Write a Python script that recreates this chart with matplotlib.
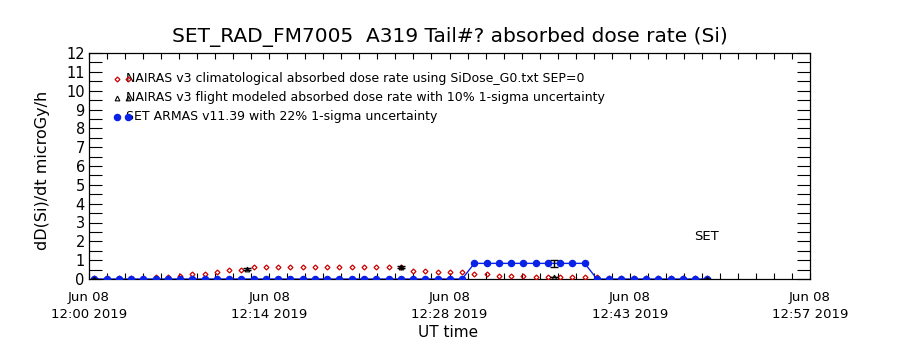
import matplotlib
matplotlib.use('Agg')
import matplotlib.pyplot as plt
import matplotlib.dates as mdates
from matplotlib.ticker import FixedLocator
import pandas as pd

# ─── Data ──────────────────────────────────────────────────────
# sample times of the dose-rate records (~58.5 s cadence)
sample_time = pd.date_range('2019-06-08 12:00:25', periods=51, freq='58500ms')

# NAIRAS v3 climatological dose rate (microGy/h)
nairas_clim = [0.03, 0.03, 0.03, 0.04, 0.05, 0.12, 0.12, 0.17, 0.27, 0.26,
               0.35, 0.46, 0.46, 0.62, 0.62, 0.62, 0.62, 0.62, 0.62, 0.62,
               0.62, 0.62, 0.62, 0.62, 0.62, 0.62, 0.44, 0.44, 0.35, 0.35,
               0.35, 0.26, 0.26, 0.17, 0.17, 0.17, 0.10, 0.10, 0.10, 0.10,
               0.10, 0.08, 0.03, 0.03, 0.03, 0.03, 0.03, 0.03, 0.03, 0.03,
               0.03]

# SET ARMAS v11.39 measured dose rate (microGy/h)
armas_set = [0.0] * 31 + [0.83] * 10 + [0.0] * 10

# NAIRAS v3 flight modeled points
flight_time = pd.to_datetime(['2019-06-08 12:00:25', '2019-06-08 12:12:36',
                              '2019-06-08 12:24:48', '2019-06-08 12:36:59',
                              '2019-06-08 12:49:10'])
nairas_flight = [0.0, 0.53, 0.65, 0.10, 0.0]
flight_sigma = 0.10

# single representative ARMAS uncertainty bar
armas_bar_time = pd.to_datetime(['2019-06-08 12:36:59'])
armas_bar_val = [0.83]
armas_sigma = 0.22

major_ticks = pd.date_range('2019-06-08 12:00:00', periods=5, freq='860s')
minor_ticks = pd.date_range('2019-06-08 12:00:00', periods=41, freq='86s')
x_start = pd.Timestamp('2019-06-08 12:00:00')
x_end = pd.Timestamp('2019-06-08 12:57:20')

legend_rows = [
    'NAIRAS v3 climatological absorbed dose rate using SiDose_G0.txt SEP=0',
    'NAIRAS v3 flight modeled absorbed dose rate with 10% 1-sigma uncertainty',
    'SET ARMAS v11.39 with 22% 1-sigma uncertainty',
]

# ─── Style ─────────────────────────────────────────────────────
RED = '#d00000'
BLUE = '#0a22e8'
BLACK = '#000000'
plt.rcParams['font.family'] = ['DejaVu Sans']

fig = plt.figure(figsize=(9, 3.5), dpi=100)
fig.patch.set_facecolor('white')
ax = fig.add_axes([89 / 900, 1 - 279 / 350, 721 / 900, 226 / 350])

diamond = dict(marker='D', ms=2.5, mfc='none', mec=RED, mew=0.9)
triangle = dict(marker='^', ms=3.4, mfc='none', mec=BLACK, mew=0.8)
dot = dict(marker='o', ms=4.4, mfc=BLUE, mec=BLUE)

# ─── Series ────────────────────────────────────────────────────
ax.plot(sample_time, nairas_clim, ls='none', zorder=3, **diamond)
ax.plot(sample_time, armas_set, color=BLUE, lw=1.0, zorder=4, **dot)
flight_err = [v * flight_sigma for v in nairas_flight]
ax.errorbar(flight_time, nairas_flight, yerr=flight_err, fmt='none',
            ecolor=BLACK, elinewidth=1.0, capsize=3.2, capthick=1.0, zorder=5)
ax.plot(flight_time, nairas_flight, ls='none', zorder=5, **triangle)
ax.errorbar(armas_bar_time, armas_bar_val,
            yerr=[v * armas_sigma for v in armas_bar_val], fmt='none',
            ecolor=BLACK, elinewidth=1.0, capsize=2.6, capthick=1.0, zorder=6)

# ─── Axes ──────────────────────────────────────────────────────
ax.set_xlim(x_start, x_end)
ax.set_ylim(0, 12)
ax.xaxis.set_major_locator(FixedLocator(mdates.date2num(major_ticks)))
ax.xaxis.set_minor_locator(FixedLocator(mdates.date2num(minor_ticks)))
ax.xaxis.set_major_formatter(mdates.DateFormatter('%b %d\n%H:%M %Y'))
ax.set_yticks(range(0, 13))
ax.set_yticks([v + 0.5 for v in range(12)], minor=True)

ax.tick_params(axis='x', which='both', direction='in', top=True, bottom=True,
               length=4.0, width=0.8, labelsize=9.5, pad=9)
ax.tick_params(axis='y', which='both', direction='in', left=True, right=True,
               length=9.5, width=0.8, labelsize=10.5, pad=3)
for lbl in ax.get_xticklabels():
    lbl.set_linespacing(1.35)
for side in ax.spines.values():
    side.set_linewidth(0.9)

ax.set_ylabel('dD(Si)/dt microGy/h', fontsize=11.5)
ax.yaxis.set_label_coords(-0.054, 0.48)
ax.set_xlabel('UT time', fontsize=11)
ax.xaxis.set_label_coords(0.498, -0.204)

fig.text(449.5 / 900, 1 - 37 / 350,
         'SET_RAD_FM7005  A319 Tail#? absorbed dose rate (Si)',
         ha='center', va='center', fontsize=14.5)

ax.text(0.857, 0.186, 'SET', transform=ax.transAxes,
        ha='center', va='center', fontsize=9.5)

# ─── Legend (drawn by hand, no frame) ──────────────────────────
row_y = [0.885, 0.801, 0.717]
styles = [diamond, triangle, dot]
for y, text, st in zip(row_y, legend_rows, styles):
    ax.plot([0.0395, 0.0545], [y, y], ls='none', transform=ax.transAxes,
            clip_on=False, zorder=6, **st)
    ax.text(0.0515, y, text, transform=ax.transAxes, ha='left', va='center',
            fontsize=9, zorder=5)

fig.savefig('out.png', dpi=100, facecolor='white')
plt.close(fig)
